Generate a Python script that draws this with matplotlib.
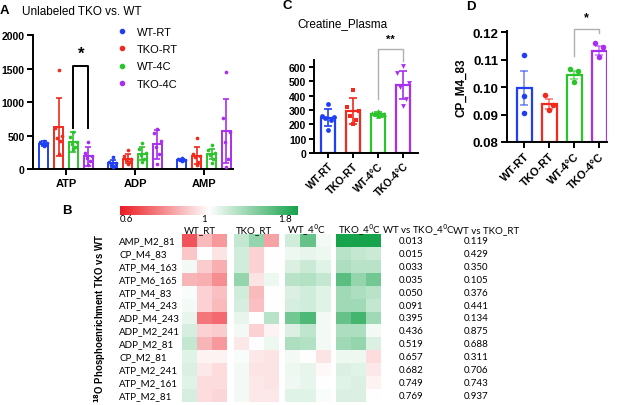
import numpy as np
import matplotlib
matplotlib.use('Agg')
import matplotlib.pyplot as plt
import matplotlib.transforms as mtransforms
from matplotlib.colors import LinearSegmentedColormap, TwoSlopeNorm
from matplotlib.lines import Line2D

W, H = 617, 406

# ---- data ----
cond_names = ['WT-RT', 'TKO-RT', 'WT-4C', 'TKO-4C']
cond_ticks = ['WT-RT', 'TKO-RT', 'WT-4°C', 'TKO-4°C']
cond_colors = ['#1f3ff5', '#f2291c', '#2bc42b', '#a82ef0']

# panel A: unlabeled nucleotides (mean, SD, individual points)
a_groups = ['ATP', 'ADP', 'AMP']
a_mean = [[380, 630, 410, 195],
          [90, 160, 235, 370],
          [145, 205, 228, 570]]
a_sd = [[35, 430, 150, 140],
        [50, 70, 95, 210],
        [15, 130, 70, 470]]
a_points = [
    [[420, 405, 390, 370, 355, 340], [1480, 620, 500, 470, 420, 230],
     [560, 480, 400, 380, 330, 300], [410, 250, 200, 170, 120, 70]],
    [[190, 110, 90, 70, 50, 40], [280, 200, 160, 140, 110, 80],
     [395, 300, 250, 220, 150, 110], [600, 540, 420, 330, 230, 80]],
    [[165, 155, 145, 140, 135, 130], [460, 230, 200, 180, 110, 60],
     [365, 290, 250, 210, 160, 100], [1450, 760, 560, 400, 160, 40]],
]

# panel C: creatine plasma
c_mean = [248, 293, 272, 472]
c_sd = [57, 88, 16, 98]
c_points = [[340, 262, 250, 245, 232, 160],
            [440, 320, 295, 262, 232, 205],
            [292, 282, 276, 270, 265, 258],
            [610, 562, 490, 462, 380, 330]]
c_markers = ['o', 's', '^', 'v']

# panel D: CP_M4_83
d_mean = [0.0997, 0.0939, 0.1044, 0.1132]
d_sem = [0.0063, 0.0018, 0.0015, 0.0017]
d_points = [[0.1118, 0.0967, 0.0907],
            [0.0972, 0.0935, 0.0917],
            [0.1064, 0.1060, 0.1020],
            [0.1162, 0.1145, 0.1108]]

# panel B: heatmap of 18O phosphoenrichment (TKO vs WT ratios)
row_labels = ['AMP_M2_81', 'CP_M4_83', 'ATP_M4_163', 'ATP_M6_165', 'ATP_M4_83',
              'ATP_M4_243', 'ADP_M4_243', 'ADP_M2_241', 'ADP_M2_81', 'CP_M2_81',
              'ATP_M2_241', 'ATP_M2_161', 'ATP_M2_81']
heat_groups = ['WT_RT', 'TKO_RT', 'WT_4$^0$C', 'TKO_4$^0$C']
heat_values = np.array([
    [0.70, 0.88, 0.82, 1.20, 1.36, 0.84, 1.16, 1.52, 1.04, 1.80, 1.80, 1.80],
    [0.90, 1.00, 0.95, 1.16, 0.92, 1.00, 1.06, 1.08, 1.06, 1.24, 1.20, 1.18],
    [1.04, 0.91, 0.86, 1.16, 0.92, 1.00, 1.12, 1.18, 1.10, 1.28, 1.24, 1.24],
    [0.87, 0.86, 0.80, 1.36, 0.95, 1.06, 1.24, 1.26, 1.20, 1.56, 1.36, 1.48],
    [1.02, 0.92, 0.89, 1.16, 0.88, 1.00, 1.12, 1.16, 1.10, 1.32, 1.28, 1.24],
    [1.04, 0.92, 0.88, 1.14, 0.89, 1.00, 1.14, 1.16, 1.10, 1.32, 1.32, 1.20],
    [1.08, 0.76, 0.74, 1.08, 1.00, 1.24, 1.48, 1.60, 1.04, 1.52, 1.64, 1.32],
    [1.14, 0.92, 0.91, 1.04, 0.92, 0.98, 1.12, 1.22, 1.04, 1.28, 1.28, 1.04],
    [1.20, 0.87, 0.82, 0.96, 1.00, 1.06, 1.28, 1.26, 1.04, 1.32, 1.36, 1.12],
    [1.10, 0.98, 0.98, 1.02, 0.96, 0.95, 1.04, 1.00, 0.95, 1.06, 1.06, 0.94],
    [1.12, 0.96, 0.94, 1.04, 0.95, 0.95, 1.06, 1.08, 0.99, 1.12, 1.10, 0.96],
    [1.10, 0.94, 0.94, 1.04, 0.96, 0.95, 1.05, 1.08, 1.00, 1.10, 1.12, 0.98],
    [1.14, 0.94, 0.93, 1.04, 0.96, 0.96, 1.10, 1.10, 1.02, 1.12, 1.12, 1.00],
])
p_4c = ['0.013', '0.015', '0.033', '0.035', '0.050', '0.091', '0.395',
        '0.436', '0.519', '0.657', '0.682', '0.749', '0.769']
p_rt = ['0.119', '0.429', '0.350', '0.105', '0.376', '0.441', '0.134',
        '0.875', '0.688', '0.311', '0.706', '0.743', '0.937']

plt.rcParams['font.family'] = ['Liberation Sans', 'DejaVu Sans']

fig = plt.figure(figsize=(W / 100, H / 100), dpi=100)


def px_axes(x0, y0, x1, y1):
    return fig.add_axes([x0 / W, 1 - y1 / H, (x1 - x0) / W, (y1 - y0) / H])


def fx(x):
    return x / W


def fy(y):
    return 1 - y / H


def prism_style(ax, lw=1.4):
    for s in ['top', 'right']:
        ax.spines[s].set_visible(False)
    for s in ['left', 'bottom']:
        ax.spines[s].set_linewidth(lw)
    ax.tick_params(width=lw, length=4, pad=2)


def spread(n, width):
    # spread points side by side inside a bar
    pattern = np.array([0, -1, 1, -0.5, 0.5, 0, -1, 1])[:n]
    return pattern * width / 2


# ---- panel A ----
axA = px_axes(33, 36, 233, 170.3)
bw = 0.13
step = 0.217
for gi, grp in enumerate(a_groups):
    for ci in range(4):
        x = gi + (ci - 1.5) * step
        col = cond_colors[ci]
        axA.bar(x, a_mean[gi][ci], width=bw, facecolor='white', edgecolor=col, linewidth=1.4)
        axA.errorbar(x, a_mean[gi][ci], yerr=a_sd[gi][ci], color=col, capsize=2.5,
                     elinewidth=1.2, capthick=1.2)
        pts = a_points[gi][ci]
        axA.scatter(x + spread(len(pts), bw * 0.8), pts, s=7, color=col, zorder=3, linewidths=0)
axA.set_xlim(-0.478, 2.42)
axA.set_ylim(0, 2000)
axA.set_yticks([0, 500, 1000, 1500, 2000])
axA.set_xticks(range(3))
axA.set_xticklabels(a_groups)
prism_style(axA)
for lab in axA.get_yticklabels():
    lab.set_fontweight('bold')
    lab.set_fontsize(7.5)
for lab in axA.get_xticklabels():
    lab.set_fontweight('bold')
    lab.set_fontsize(8)
# significance bracket ATP WT-4C vs TKO-4C
xl = 0 + 0.5 * step
xr = 0 + 1.5 * step
axA.plot([xl, xl, xr, xr], [620, 1545, 1545, 620], color='black', lw=1.4, clip_on=False)
axA.text((xl + xr) / 2, 1620, '*', ha='center', va='bottom', fontsize=12, fontweight='bold')
handles = [Line2D([], [], marker='o', ls='', color=c, markersize=3) for c in cond_colors]
axA.legend(handles, cond_names, loc='upper left', bbox_to_anchor=(fx(116.5), fy(28)),
           bbox_transform=fig.transFigure, frameon=False, fontsize=8, handlelength=1,
           handletextpad=0.8, borderpad=0, borderaxespad=0, labelspacing=0.65)
fig.text(fx(22), fy(12), 'Unlabeled TKO vs. WT', fontsize=8.5, ha='left', va='center')
fig.text(fx(4), fy(11), 'A', fontsize=9.5, fontweight='bold', ha='center', va='center')

# ---- panel C ----
axC = px_axes(314, 61, 418, 154)
xs = np.arange(4)
for ci in range(4):
    col = cond_colors[ci]
    axC.bar(ci, c_mean[ci], width=0.58, facecolor='white', edgecolor=col, linewidth=1.6)
    axC.errorbar(ci, c_mean[ci], yerr=c_sd[ci], color=col, capsize=3, elinewidth=1.2, capthick=1.2)
    pts = c_points[ci]
    axC.scatter(ci + spread(len(pts), 0.45), pts, s=12, color=col, marker=c_markers[ci],
                zorder=3, linewidths=0)
axC.set_xlim(-0.56, 3.6)
axC.set_ylim(0, 650)
axC.set_yticks(range(0, 601, 100))
axC.set_xticks(xs)
axC.set_xticklabels(cond_ticks, rotation=45, ha='right', rotation_mode='anchor')
prism_style(axC)
axC.tick_params(length=3.5)
for lab in axC.get_yticklabels() + axC.get_xticklabels():
    lab.set_fontweight('bold')
    lab.set_fontsize(7.5)
axC.plot([2, 2, 3, 3], [377, 726, 726, 642], color='#b0b0b0', lw=1.0, clip_on=False)
axC.text(2.5, 760, '**', ha='center', va='bottom', fontsize=8, fontweight='bold')
fig.text(fx(297), fy(24), 'Creatine_Plasma', fontsize=8.5, ha='left', va='center')
fig.text(fx(287), fy(6), 'C', fontsize=9.5, fontweight='bold', ha='center', va='center')

# ---- panel D ----
axD = px_axes(507, 32, 607, 143)
for ci in range(4):
    col = cond_colors[ci]
    axD.bar(ci, d_mean[ci] - 0.08, bottom=0.08, width=0.6, facecolor='white', edgecolor=col,
            linewidth=1.6)
    axD.errorbar(ci, d_mean[ci], yerr=d_sem[ci], color=col, capsize=3, elinewidth=1.2,
                 capthick=1.2, alpha=0.6)
    pts = d_points[ci]
    axD.scatter(ci + np.array([-0.15, 0.15, 0.0]) * (ci > 0), pts, s=16, color=col, zorder=3,
                linewidths=0)
axD.set_xlim(-0.68, 3.32)
axD.set_ylim(0.08, 0.1204)
axD.set_yticks([0.08, 0.09, 0.10, 0.11, 0.12])
axD.set_yticklabels(['0.08', '0.09', '0.10', '0.11', '0.12'])
axD.set_xticks(xs)
axD.set_xticklabels(cond_ticks, rotation=45, ha='right', rotation_mode='anchor')
prism_style(axD)
for lab in axD.get_yticklabels():
    lab.set_fontweight('bold')
    lab.set_fontsize(9.5)
for lab in axD.get_xticklabels():
    lab.set_fontweight('bold')
    lab.set_fontsize(8)
axD.set_ylabel('CP_M4_83', fontsize=8.5, fontweight='bold', labelpad=4)
axD.plot([2, 2, 3, 3], [0.1114, 0.1210, 0.1210, 0.1196], color='#b0b0b0', lw=1.0, clip_on=False)
axD.text(2.5, 0.1232, '*', ha='center', va='bottom', fontsize=9, fontweight='bold')
fig.text(fx(471), fy(7), 'D', fontsize=9.5, fontweight='bold', ha='center', va='center')

# ---- panel B ----
hm_font = ['Liberation Sans Narrow', 'Lato', 'DejaVu Sans']
hm_size = 7
cmap = LinearSegmentedColormap.from_list('rwg', ['#ec1c24', '#ffffff', '#16a34c'])
norm = TwoSlopeNorm(vmin=0.6, vcenter=1.0, vmax=1.8)

axCb = px_axes(120, 207, 298, 215.5)
axCb.imshow(np.linspace(0, 1, 256)[None, :], cmap=cmap, aspect='auto', extent=(0, 1, 0, 1))
axCb.axis('off')
for pos, txt, ha in [(0.0, '0.6', 'left'), (0.47, '1', 'center'), (0.93, '1.8', 'center')]:
    fig.text(fx(120 + pos * 178), fy(219.5), txt, ha=ha, va='center', fontsize=hm_size,
             family=hm_font)

group_left = [182, 234, 285, 336]
heat_axes = []
for gi, x0 in enumerate(group_left):
    ax = px_axes(x0, 235, x0 + 45, 403)
    ax.imshow(heat_values[:, gi * 3:(gi + 1) * 3], cmap=cmap, norm=norm, aspect='auto',
              interpolation='nearest')
    ax.axis('off')
    fig.text(fx(x0 + 2), fy(230.5), heat_groups[gi], ha='left', va='center',
             fontsize=hm_size, family=hm_font)
    heat_axes.append(ax)

trans = mtransforms.blended_transform_factory(fig.transFigure, heat_axes[0].transData)
for ri, lab in enumerate(row_labels):
    fig.text(fx(119), ri, lab, transform=trans, ha='left', va='center', fontsize=hm_size,
             family=hm_font)
    fig.text(fx(411), ri, p_4c[ri], transform=trans, ha='center', va='center', fontsize=hm_size,
             family=hm_font)
    fig.text(fx(476), ri, p_rt[ri], transform=trans, ha='center', va='center', fontsize=hm_size,
             family=hm_font)
fig.text(fx(419), fy(230.5), 'WT vs TKO_4$^0$C', ha='center', va='center', fontsize=hm_size,
         family=hm_font)
fig.text(fx(486), fy(230.5), 'WT vs TKO_RT', ha='center', va='center', fontsize=hm_size,
         family=hm_font)
fig.text(fx(100), fy(319), r'$\mathbf{^{18}}$O Phosphoenrichment TKO vs WT', rotation=90,
         ha='center', va='center', fontsize=6.9, fontweight='bold')
fig.text(fx(67), fy(211), 'B', fontsize=9.5, fontweight='bold', ha='center', va='center')

fig.savefig('out.png', dpi=100)
